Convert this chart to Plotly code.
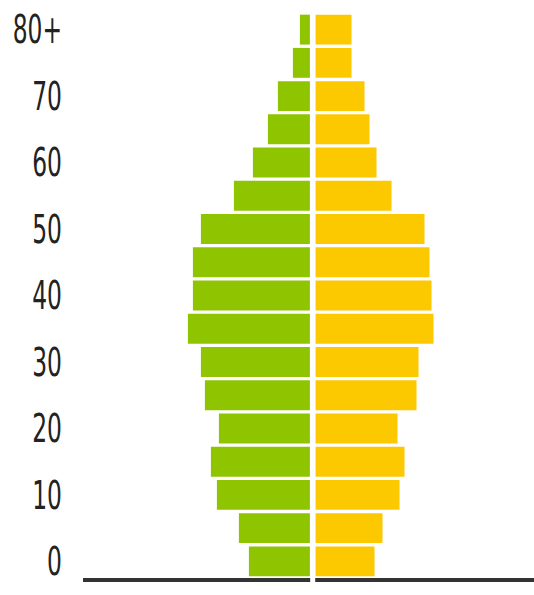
import plotly.graph_objects as go

age_groups = ["0-4", "5-9", "10-14", "15-19", "20-24", "25-29", "30-34", "35-39",
              "40-44", "45-49", "50-54", "55-59", "60-64", "65-69", "70-74", "75-79", "80+"]
# share of population (%)
green_values = [3.05, 3.55, 4.65, 4.95, 4.55, 5.25, 5.45, 6.10,
                5.85, 5.85, 5.45, 3.80, 2.85, 2.10, 1.60, 0.85, 0.50]
yellow_values = [2.95, 3.35, 4.20, 4.45, 4.10, 5.05, 5.15, 5.90,
                 5.80, 5.70, 5.45, 3.80, 3.05, 2.70, 2.45, 1.80, 1.80]
tick_positions = ["0-4", "10-14", "20-24", "30-34", "40-44", "50-54", "60-64", "70-74", "80+"]
tick_labels = ["0", "10", "20", "30", "40", "50", "60", "70", "80+"]

GREEN = "#8ec400"
YELLOW = "#fcc800"
half_gap = 0.14

fig = go.Figure()
fig.add_trace(go.Bar(
    y=age_groups, x=[-v for v in green_values], base=-half_gap,
    orientation="h", marker=dict(color=GREEN, line=dict(width=0)),
    hoverinfo="skip", showlegend=False,
))
fig.add_trace(go.Bar(
    y=age_groups, x=yellow_values, base=half_gap,
    orientation="h", marker=dict(color=YELLOW, line=dict(width=0)),
    hoverinfo="skip", showlegend=False,
))

fig.add_shape(type="line", xref="x", yref="paper", x0=0, x1=0, y0=-0.02, y1=1.0,
              line=dict(color="white", width=5), layer="above")

fig.update_layout(
    width=534, height=595,
    margin=dict(l=83, r=0, t=13, b=17),
    paper_bgcolor="white", plot_bgcolor="white",
    barmode="overlay", bargap=0.1,
    font=dict(family="DejaVu Sans Condensed, DejaVu Sans, sans-serif",
              color="#222222", size=26),
    xaxis=dict(range=[-11.485, 11.065], showgrid=False, zeroline=False,
               showticklabels=False, ticks="", showline=True,
               linecolor="#333333", linewidth=4, fixedrange=True),
    yaxis=dict(categoryorder="array", categoryarray=age_groups,
               range=[-0.5, 16.5], tickmode="array",
               tickvals=tick_positions, ticktext=tick_labels,
               showgrid=False, zeroline=False, ticks="", showline=False,
               ticklabelstandoff=20, fixedrange=True),
)

post_js = """
document.body.style.margin = '0';
document.body.style.overflow = 'hidden';
var gd = document.getElementById('{plot_id}');
gd.querySelectorAll('.ytick text').forEach(function (t) {
    var tr = t.getAttribute('transform') || '';
    t.setAttribute('transform', tr + ' scale(1,1.5)');
});
"""

fig.write_html("out.html", config={"displayModeBar": False}, post_script=post_js)
